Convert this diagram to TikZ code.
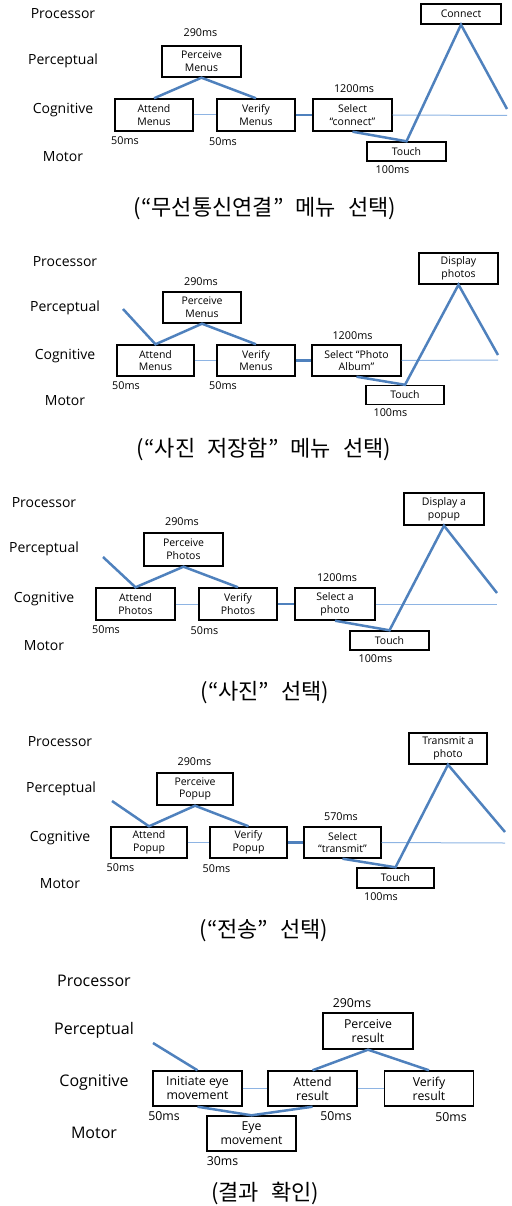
\documentclass[tikz,border=0pt]{standalone}
\usepackage{fontspec}
\setmainfont{Open Sans}
\newfontfamily\krfont{Noto Sans CJK KR}
\newcommand\capfont{\krfont\fontsize{22}{26}\selectfont\spaceskip=0.55em\relax}
\definecolor{lineblue}{HTML}{4F81BD}
\definecolor{thinblue}{HTML}{8EB4E3}
\begin{document}
\begin{tikzpicture}[x=1pt, y=-1pt, box_style/.style={draw=black,line width=1.4pt,fill=white,minimum width=78pt,minimum height=32pt,inner sep=0pt,align=center,font=\fontsize{10.5}{12.7}\selectfont}, short_box_style/.style={box_style,minimum height=19pt}, big_box_style/.style={box_style,minimum width=89pt,minimum height=35pt,font=\fontsize{12.3}{14}\selectfont}, time_style/.style={inner sep=0pt,font=\fontsize{10.8}{13}\selectfont}, big_time_style/.style={inner sep=0pt,font=\fontsize{12.3}{14}\selectfont}, level_style/.style={inner sep=0pt,font=\fontsize{14}{16}\selectfont}, big_level_style/.style={inner sep=0pt,font=\fontsize{16}{19}\selectfont}, caption_style/.style={inner sep=0pt,font=\capfont}, edge_style/.style={draw=lineblue,line width=2.5pt}, link_style/.style={draw=thinblue,line width=1pt}]
      \useasboundingbox (0,0) rectangle (511,1206);
      % "wireless connection" menu
      \draw
        (63,14) node[level_style] (proc1){Processor}
        (63,61) node[level_style] (perc1){Perceptual}
        (63,110) node[level_style] (cogn1){Cognitive}
        (63,157) node[level_style] (moto1){Motor}
        (201.5,61.5) node[box_style,minimum width=79pt,minimum height=31pt] (p1){Perceive\\Menus}
        (154,115) node[box_style] (a1){Attend\\Menus}
        (256,115) node[box_style] (v1){Verify\\Menus}
        (352.5,115) node[box_style,minimum width=79pt] (s1){Select\\``connect''}
        (406.5,151.5) node[short_box_style,minimum width=79pt] (t1){Touch}
        (461,14) node[short_box_style,minimum width=80pt,minimum height=20pt] (d1){Connect}
        (200.5,33) node[time_style] (ms_p1){290ms}
        (354,89) node[time_style] (ms_s1){1200ms}
        (392.5,170) node[time_style] (ms_t1){100ms}
        (125,141) node[time_style] (ms_a1){50ms}
        (223,142) node[time_style] (ms_v1){50ms}
        (265,209) node[caption_style] (cap1){(“무선통신연결” 메뉴 선택)};
      \coordinate (end1) at (507,109);
      \coordinate (cend1) at (507,115.5);
      \begin{scope}[-]
        \draw[link_style] (a1) -- (v1);
        \draw[link_style] (s1.east) -- (cend1);
        \draw[edge_style] (v1) -- (s1);
        \draw[edge_style] (a1.north) -- (p1.south) -- (v1.north);
        \draw[edge_style] (s1.south) -- (t1.north) -- (d1.south) -- (end1);
      \end{scope}
      % "photo album" menu
      \draw
        (65,262) node[level_style] (proc2){Processor}
        (65,308) node[level_style] (perc2){Perceptual}
        (65,356) node[level_style] (cogn2){Cognitive}
        (65,401) node[level_style] (moto2){Motor}
        (202,307.5) node[box_style,minimum height=31pt] (p2){Perceive\\Menus}
        (155.5,360.5) node[box_style,minimum width=77pt,minimum height=31pt] (a2){Attend\\Menus}
        (256,360.5) node[box_style,minimum height=31pt] (v2){Verify\\Menus}
        (356.5,360.5) node[box_style,minimum width=89pt,minimum height=31pt] (s2){Select ``Photo\\Album''}
        (405,395) node[short_box_style] (t2){Touch}
        (458.5,268.5) node[box_style,minimum width=79pt,minimum height=31pt] (d2){Display\\photos}
        (201,282) node[time_style] (ms_p2){290ms}
        (352.5,336) node[time_style] (ms_s2){1200ms}
        (390.5,413) node[time_style] (ms_t2){100ms}
        (126,386) node[time_style] (ms_a2){50ms}
        (223,386) node[time_style] (ms_v2){50ms}
        (264,449) node[caption_style] (cap2){(“사진 저장함” 메뉴 선택)};
      \coordinate (start2) at (123,309);
      \coordinate (end2) at (498,355);
      \coordinate (cend2) at (498,360);
      \begin{scope}[-]
        \draw[link_style] (a2) -- (v2);
        \draw[link_style] (s2.east) -- (cend2);
        \draw[edge_style] (v2) -- (s2);
        \draw[edge_style] (start2) -- (a2.north) -- (p2.south) -- (v2.north);
        \draw[edge_style] (s2.south) -- (t2.north) -- (d2.south) -- (end2);
      \end{scope}
      % "photo" item
      \draw
        (44,503) node[level_style] (proc3){Processor}
        (44,549) node[level_style] (perc3){Perceptual}
        (44,599) node[level_style] (cogn3){Cognitive}
        (44,646) node[level_style] (moto3){Motor}
        (183.5,549.5) node[box_style,minimum width=79pt,minimum height=33pt] (p3){Perceive\\Photos}
        (135.5,604) node[box_style,minimum width=79pt] (a3){Attend\\Photos}
        (238,604) node[box_style] (v3){Verify\\Photos}
        (335,604) node[box_style,minimum width=80pt] (s3){Select a\\photo}
        (389.5,640.5) node[short_box_style,minimum width=79pt] (t3){Touch}
        (444,509) node[box_style,minimum width=80pt] (d3){Display a\\popup}
        (182,522) node[time_style] (ms_p3){290ms}
        (337,578) node[time_style] (ms_s3){1200ms}
        (375.5,659) node[time_style] (ms_t3){100ms}
        (106,630) node[time_style] (ms_a3){50ms}
        (204.5,631) node[time_style] (ms_v3){50ms}
        (265,693) node[caption_style] (cap3){(“사진” 선택)};
      \coordinate (start3) at (103,557);
      \coordinate (end3) at (497,593);
      \coordinate (cend3) at (497,604);
      \begin{scope}[-]
        \draw[link_style] (a3) -- (v3);
        \draw[link_style] (s3.east) -- (cend3);
        \draw[edge_style] (v3) -- (s3);
        \draw[edge_style] (start3) -- (a3.north) -- (p3.south) -- (v3.north);
        \draw[edge_style] (s3.south) -- (t3.north) -- (d3.south) -- (end3);
      \end{scope}
      % "send" item
      \draw
        (60,742) node[level_style] (proc4){Processor}
        (61,789) node[level_style] (perc4){Perceptual}
        (60,838) node[level_style] (cogn4){Cognitive}
        (60,884) node[level_style] (moto4){Motor}
        (195,789) node[box_style,minimum width=76pt] (p4){Perceive\\Popup}
        (149,842.5) node[box_style,minimum width=76pt,minimum height=31pt] (a4){Attend\\Popup}
        (248.5,842.5) node[box_style,minimum width=77pt,minimum height=31pt] (v4){Verify\\Popup}
        (342.5,842.5) node[box_style,minimum width=77pt,minimum height=31pt] (s4){Select\\``transmit''}
        (395.5,878) node[short_box_style,minimum width=77pt,minimum height=20pt] (t4){Touch}
        (448,748.5) node[box_style,minimum height=31pt] (d4){Transmit a\\photo}
        (194.5,762) node[time_style] (ms_p4){290ms}
        (341,817) node[time_style] (ms_s4){570ms}
        (381,897) node[time_style] (ms_t4){100ms}
        (120.5,868) node[time_style] (ms_a4){50ms}
        (216.5,869) node[time_style] (ms_v4){50ms}
        (264,931) node[caption_style] (cap4){(“전송” 선택)};
      \coordinate (start4) at (112,801);
      \coordinate (end4) at (505,832);
      \coordinate (cend4) at (505,843);
      \begin{scope}[-]
        \draw[link_style] (a4) -- (v4);
        \draw[link_style] (s4.east) -- (cend4);
        \draw[edge_style] (v4) -- (s4);
        \draw[edge_style] (start4) -- (a4.north) -- (p4.south) -- (v4.north);
        \draw[edge_style] (s4.south) -- (t4.north) -- (d4.south) -- (end4);
      \end{scope}
      % result check
      \draw
        (94,981) node[big_level_style] (proc5){Processor}
        (94,1030) node[big_level_style] (perc5){Perceptual}
        (94,1083) node[big_level_style] (cogn5){Cognitive}
        (94,1133) node[big_level_style] (moto5){Motor}
        (368,1031) node[big_box_style,minimum width=90pt,minimum height=36pt] (p5){Perceive\\result}
        (197.5,1088.5) node[big_box_style] (i5){Initiate eye\\movement}
        (312.5,1088.5) node[big_box_style] (a5){Attend\\result}
        (429,1088.5) node[big_box_style] (v5){Verify\\result}
        (251.5,1133.5) node[big_box_style] (e5){Eye\\movement}
        (352,1003) node[big_time_style] (ms_p5){290ms}
        (164,1116) node[big_time_style] (ms_i5){50ms}
        (336,1116) node[big_time_style] (ms_a5){50ms}
        (451,1117) node[big_time_style] (ms_v5){50ms}
        (222.5,1161) node[big_time_style] (ms_e5){30ms}
        (265,1193) node[caption_style] (cap5){(결과 확인)};
      \coordinate (start5) at (153,1043);
      \begin{scope}[-]
        \draw[link_style] (i5) -- (a5);
        \draw[link_style] (a5) -- (v5);
        \draw[edge_style] (start5) -- (i5.north);
        \draw[edge_style] (i5.south) -- (e5.north) -- (a5.south);
        \draw[edge_style] (a5.north) -- (p5.south) -- (v5.north);
      \end{scope}
    \end{tikzpicture}
\end{document}
